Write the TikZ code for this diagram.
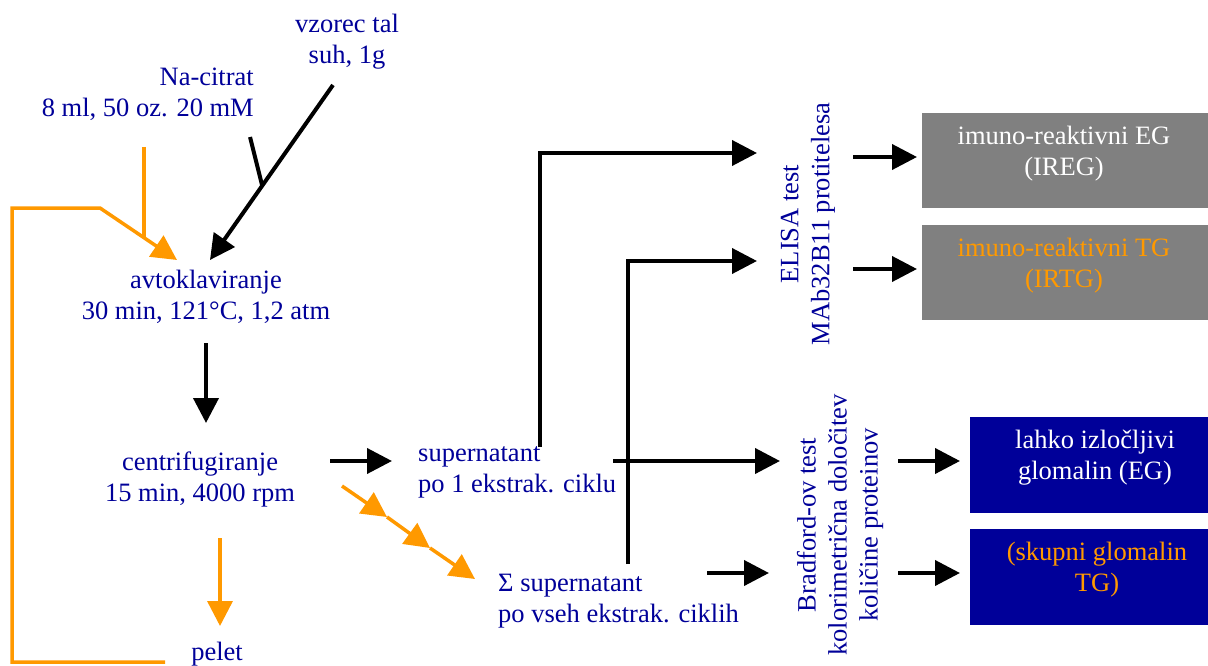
\documentclass[tikz,border=0pt]{standalone}
\usepackage{fontspec}
\setmainfont{Liberation Serif}
\usetikzlibrary{arrows.meta}
\definecolor{tblue}{RGB}{0,0,153}
\definecolor{orng}{RGB}{255,153,0}
\definecolor{gbox}{RGB}{128,128,128}
\definecolor{nbox}{RGB}{0,0,153}
\begin{document}
\begin{tikzpicture}[x=1pt,y=-1pt,
  txt/.style={font=\fontsize{26.5}{31}\selectfont, text=tblue, inner sep=0pt, align=center},
  blk/.style={draw=black, line width=4pt, -{Triangle[length=25pt,width=25pt]}},
  plainblk/.style={draw=black, line width=4pt},
  org/.style={draw=orng, line width=3.5pt, -{Triangle[length=25pt,width=25pt]}},
  plainorg/.style={draw=orng, line width=3.5pt},
  gray box/.style={fill=gbox, inner sep=0pt, minimum width=286pt, minimum height=95pt, anchor=north west},
  navy box/.style={fill=nbox, inner sep=0pt, minimum width=238pt, minimum height=96pt, anchor=north west}]
\useasboundingbox[fill=white] (0,0) rectangle (1208,666);

% boxes
\node[gray box] (g1) at (922,113) {};
\node[gray box] (g2) at (922,225) {};
\node[navy box] (n1) at (970,417) {};
\node[navy box] (n2) at (970,529) {};

% texts
\node[txt] (vz) at (347,41.5) {vzorec tal\\suh, 1g};
\node[txt, align=right, anchor=east] (na) at (254,94.5) {Na-citrat\\8 ml, 50 oz. 20 mM};
\node[txt] (av) at (206,297) {avtoklaviranje\\30 min, 121°C, 1,2 atm};
\node[txt] (ce) at (200,479) {centrifugiranje\\15 min, 4000 rpm};
\node[txt] (pe) at (217,654) {pelet};
\node[txt, align=left, anchor=west] (s1) at (418,472.5) {supernatant\\po 1 ekstrak. ciklu};
\node[txt, align=left, anchor=west] (s2) at (498,601) {Σ supernatant\\po vseh ekstrak. ciklih};
\node[txt, rotate=90] (el) at (808,224) {ELISA test\\MAb32B11 protitelesa};
\node[txt, rotate=90] (br) at (840,525) {Bradford-ov test\\kolorimetrična določitev\\količine proteinov};
\node[txt, text=white] (t1) at (1064,153.5) {imuno-reaktivni EG\\(IREG)};
\node[txt, text=orng] (t2) at (1064,265.5) {imuno-reaktivni TG\\(IRTG)};
\node[txt, text=white] (t3) at (1095,458) {lahko izločljivi\\glomalin (EG)};
\node[txt, text=orng] (t4) at (1097,569.5) {(skupni glomalin\\TG)};

% coordinates
\coordinate (vzs) at (333,85);
\coordinate (avin) at (210,260);
\coordinate (nas) at (250,137);
\coordinate (naj) at (262,185);
\coordinate (ocs) at (144,147);
\coordinate (ocj) at (144,237);
\coordinate (lp0) at (165,662);
\coordinate (lp1) at (12,662);
\coordinate (lp2) at (12,208);
\coordinate (lp3) at (100,208);
\coordinate (avin2) at (177,260);
\coordinate (avout) at (206,343);
\coordinate (cein) at (206,423);
\coordinate (ceout) at (220,538);
\coordinate (pein) at (220,626);
\coordinate (ce1) at (330,461);
\coordinate (s1in) at (392,461);
\coordinate (o1) at (342,486);
\coordinate (o2) at (387,517);
\coordinate (o3) at (430,548);
\coordinate (o4) at (475,579);
\coordinate (s1up) at (540,447);
\coordinate (c1) at (540,153);
\coordinate (el1) at (757,153);
\coordinate (s2up) at (628,564);
\coordinate (c2) at (628,261);
\coordinate (el2) at (757,261);
\coordinate (h1s) at (613,461);
\coordinate (br1) at (780,461);
\coordinate (h2s) at (707,573);
\coordinate (br2) at (769,573);
\coordinate (e1s) at (853,157);
\coordinate (e1e) at (917,157);
\coordinate (e2s) at (853,269);
\coordinate (e2e) at (917,269);
\coordinate (b1s) at (898,461);
\coordinate (b1e) at (960,461);
\coordinate (b2s) at (898,573);
\coordinate (b2e) at (960,573);

% connectors
\draw[blk] (vzs) -- (avin);
\draw[plainblk] (nas) -- (naj);
\draw[plainorg] (ocs) -- (ocj);
\draw[org] (lp0) -- (lp1) -- (lp2) -- (lp3) -- (avin2);
\draw[blk] (avout) -- (cein);
\draw[org] (ceout) -- (pein);
\draw[blk] (ce1) -- (s1in);
\draw[org] (o1) -- (o2);
\draw[org] (o2) -- (o3);
\draw[org] (o3) -- (o4);
\draw[blk] (s1up) -- (c1) -- (el1);
\draw[blk] (s2up) -- (c2) -- (el2);
\draw[blk] (h1s) -- (br1);
\draw[blk] (h2s) -- (br2);
\draw[blk] (e1s) -- (e1e);
\draw[blk] (e2s) -- (e2e);
\draw[blk] (b1s) -- (b1e);
\draw[blk] (b2s) -- (b2e);
\end{tikzpicture}
\end{document}
